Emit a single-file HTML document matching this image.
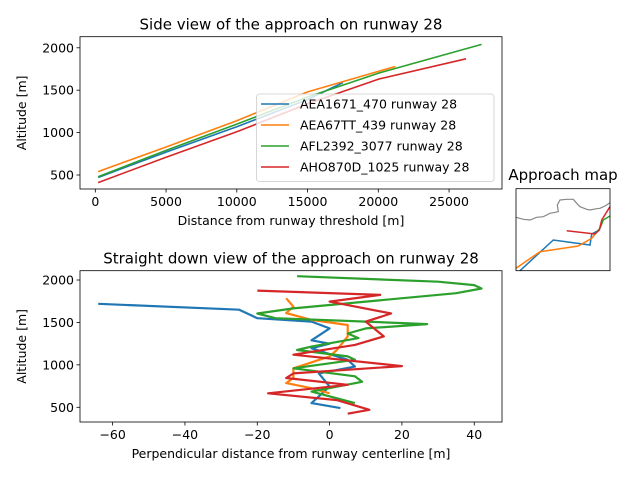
<!DOCTYPE html>
<html><head><meta charset="utf-8"><style>
body{margin:0;background:#fff;}
svg text{font-family:"DejaVu Sans","Liberation Sans",sans-serif;fill:#000;}
</style></head><body>
<svg id="c" width="640" height="480" xmlns="http://www.w3.org/2000/svg"></svg>
<script>
const colors=["#1f77b4","#ff7f0e","#2ca02c","#d62728"];
const seriesNames=["AEA1671_470 runway 28","AEA67TT_439 runway 28","AFL2392_3077 runway 28","AHO870D_1025 runway 28"];
// side view: distance [m], altitude [m]
const sideDist=[[200,5000,10000,15000,17500],[200,5000,10000,15000,21200],[200,5000,10000,15000,20000,27300],[200,5000,10000,15000,20000,26200]];
const sideAlt=[[470,770,1070,1390,1590],[540,830,1140,1480,1780],[480,790,1100,1420,1700,2040],[410,710,1010,1340,1630,1870]];
const sideXTicks=[0,5000,10000,15000,20000,25000];
const sideYTicks=[500,1000,1500,2000];
// down view: perpendicular offset [m], altitude [m]
const downOff=[
[-64,-25,-22,-20,-5,0,-5,0,-5,5,7,-3,0,-5,3],
[-12,-10,-12,-5,5,5,2,0,-10,-10,-12,-5,0],
[-9,30,40,42,35,10,-10,-20,-15,10,27,10,5,8,-5,-9,5,7,-10,7,9,-5,7],
[-20,14,0,17,10,15,7,-10,20,-10,-12,5,-17,2,11,5]];
const downAlt=[
[1720,1650,1590,1550,1510,1430,1290,1250,1195,1060,980,900,745,550,490],
[1785,1685,1610,1530,1470,1335,1175,1100,960,845,785,725,665],
[2045,1980,1940,1900,1845,1745,1665,1605,1550,1510,1480,1430,1370,1315,1215,1175,1100,1060,960,865,800,685,550],
[1875,1825,1745,1605,1510,1335,1235,1120,985,900,845,765,665,585,470,425]];
const downXTicks=[-60,-40,-20,0,20,40];
const downYTicks=[500,1000,1500,2000];

const svg=document.getElementById('c');
const NS="http://www.w3.org/2000/svg";
function mk(t,a,p){const e=document.createElementNS(NS,t);for(const k in a)e.setAttribute(k,a[k]);(p||svg).appendChild(e);return e;}
function txt(s,x,y,size,anchor,p,rot){const e=mk('text',{x:x,y:y,'font-size':size,'text-anchor':anchor||'middle'},p);if(rot)e.setAttribute('transform','rotate(-90 '+x+' '+y+')');e.textContent=s;return e;}

function axes(name,L,R,T,B,sx,sy,xt,yt,xl,yl,title,xs,ys,sw){
  const g=mk('g',{});
  
  
  for(let i=0;i<xs.length;i++){
    const d=xs[i].map((v,j)=>(j?'L':'M')+sx(v).toFixed(1)+' '+sy(ys[i][j]).toFixed(1)).join(' ');
    const p=mk('path',{d:d,fill:'none',stroke:colors[i],'stroke-width':sw,'stroke-linejoin':'round'},g);
    
    
  }
  mk('rect',{x:L,y:T,width:R-L,height:B-T,fill:'none',stroke:'#000','stroke-width':0.8},g);
  xt.forEach(v=>{const x=sx(v);mk('line',{x1:x,x2:x,y1:B,y2:B+3.5,stroke:'#000','stroke-width':0.8},g);
    const t=txt(String(v).replace('-','\u2212'),x,B+17,12.5,'middle',g);});
  yt.forEach(v=>{const y=sy(v);mk('line',{x1:L-3.5,x2:L,y1:y,y2:y,stroke:'#000','stroke-width':0.8},g);
    const t=txt(String(v),L-6,y+4.5,12.5,'end',g);});
  const a=txt(xl,(L+R)/2,B+36,12.5,'middle',g);
  const b=txt(yl,26,(T+B)/2,12.5,'middle',g,true);
  const c=txt(title,(L+R)/2,T-7,15,'middle',g);
  return g;
}
// top
const sx1=v=>95.3+v*70.75/5000, sy1=v=>175-(v-500)*42.4/500;
axes('side-view-plot',80,502,36.7,189,sx1,sy1,sideXTicks,sideYTicks,'Distance from runway threshold [m]','Altitude [m]','Side view of the approach on runway 28',sideDist,sideAlt,1.6);
// bottom
const sx2=v=>329.6+v*3.616, sy2=v=>407.3-(v-500)*42.43/500;
axes('down-view-plot',80,502,270.7,422,sx2,sy2,downXTicks,downYTicks,'Perpendicular distance from runway centerline [m]','Altitude [m]','Straight down view of the approach on runway 28',downOff,downAlt,2.2);
// legend
const lg=mk('g',{});


mk('rect',{x:256.5,y:94,width:237.5,height:87.5,rx:3,fill:'#fff','fill-opacity':0.8,stroke:'#ccc','stroke-width':0.8},lg);
seriesNames.forEach((n,i)=>{const y=104+i*21;
  const e=mk('g',{},lg);
  
  
  mk('line',{x1:261,x2:289,y1:y,y2:y,stroke:colors[i],'stroke-width':1.5},e);
  txt(n,300,y+4.5,12.5,'start',e);});
// map
const mg=mk('g',{});


const mt=txt('Approach map',563,180,15,'middle',mg);

function mp(pts){return 'M'+pts.map(p=>(500+p[0]/3).toFixed(1)+' '+(160+p[1]/3).toFixed(1)).join(' L');}
mk('path',{d:mp([[48,172],[70,178],[90,180],[110,172],[130,170],[150,160],[175,155],[172,135],[180,120],[200,118],[220,118],[230,130],[240,140],[260,148],[270,150],[290,146],[300,145],[315,138],[330,128]]),fill:'none',stroke:'#888','stroke-width':1.2},mg);
mk('path',{d:mp([[60,332],[160,240],[270,255],[275,222],[298,210]]),fill:'none',stroke:colors[0],'stroke-width':1.5},mg);
mk('path',{d:mp([[48,325],[120,275],[235,258],[275,235],[285,222]]),fill:'none',stroke:colors[1],'stroke-width':1.5},mg);
mk('path',{d:mp([[285,222],[300,205],[310,180],[330,168]]),fill:'none',stroke:colors[2],'stroke-width':1.5},mg);
mk('path',{d:mp([[200,212],[285,222],[298,210],[305,180],[330,140]]),fill:'none',stroke:colors[3],'stroke-width':1.5},mg);
mk('rect',{x:516,y:188.7,width:94,height:82,fill:'none',stroke:'#000','stroke-width':0.8},mg);
</script>
</body></html>
